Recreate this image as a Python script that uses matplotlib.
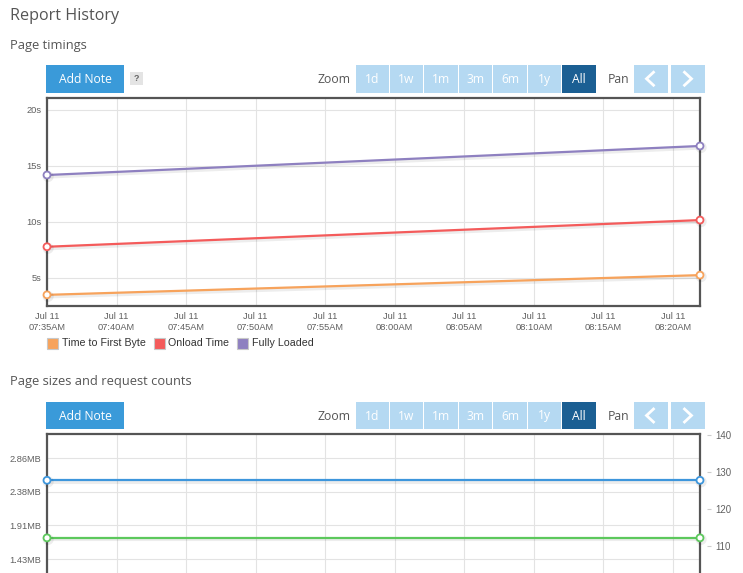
import matplotlib
matplotlib.use("Agg")
import matplotlib.pyplot as plt
import matplotlib.dates as mdates
import matplotlib.patheffects as pe
from matplotlib.patches import Rectangle
from matplotlib.lines import Line2D
from matplotlib.ticker import FuncFormatter, FixedLocator
import pandas as pd

# ---------------- data ----------------
times = pd.to_datetime(["2023-07-11 07:35:00", "2023-07-11 08:21:57"])
timing_names = ["Time to First Byte", "Onload Time", "Fully Loaded"]
ttfb = [3.48, 5.24]
onload = [7.77, 10.15]
fully_loaded = [14.17, 16.76]
timing_colors = ["#f7a35c", "#f45b5b", "#8e80c0"]

page_size_bytes = [2672000, 2672000]
request_counts = [112.2, 112.2]
size_colors = ["#3d96dc", "#5cc85c"]

size_ticks_bytes = [1500000, 2000000, 2500000, 3000000]
count_ticks = [110, 120, 130, 140]
zoom_labels = ["1d", "1w", "1m", "3m", "6m", "1y", "All"]

# ---------------- layout helpers ----------------
W, H = 743, 573
fig = plt.figure(figsize=(W / 100, H / 100), dpi=100)
fig.patch.set_facecolor("white")

def fx(x):
    return x / W

def fy(y):
    return 1 - y / H

def ax_rect(x0, y0, x1, y1):
    return [fx(x0), fy(y1), (x1 - x0) / W, (y1 - y0) / H]

UI = "Open Sans"
TICKF = ["Liberation Sans", "DejaVu Sans"]

def rect(x0, y0, x1, y1, color):
    fig.patches.append(Rectangle((fx(x0), fy(y1)), (x1 - x0) / W, (y1 - y0) / H,
                                 transform=fig.transFigure, facecolor=color,
                                 edgecolor="none", zorder=1))

def button(x0, x1, y0, y1, color, label, size=8.7):
    rect(x0, y0, x1, y1, color)
    fig.text(fx((x0 + x1) / 2), fy((y0 + y1) / 2 + 0.5), label, ha="center", va="center",
             color="white", fontsize=size, family=UI, zorder=2)

def chevron(xc, yc, direction):
    d = 3.5 * direction
    fig.lines.append(Line2D([fx(xc - d), fx(xc + d), fx(xc - d)],
                            [fy(yc - 6.5), fy(yc), fy(yc + 6.5)],
                            transform=fig.transFigure, color="white", lw=2.0,
                            solid_joinstyle="miter", zorder=2))

def toolbar(y0, y1, with_help):
    button(46, 124, y0, y1, "#3a9ad9", "Add Note")
    if with_help:
        rect(130, y0 + 7, 143, y0 + 20, "#e4e4e4")
        fig.text(fx(136.5), fy(y0 + 13.5), "?", ha="center", va="center",
                 fontsize=6.5, color="#666666", weight="bold", family=TICKF)
    fig.text(fx(351), fy((y0 + y1) / 2 + 0.5), "Zoom", ha="right", va="center",
             fontsize=8.8, color="#555555", family=UI)
    edges = [356, 389, 423, 458, 492, 527, 561, 596]
    for i, lab in enumerate(zoom_labels):
        col = "#1b5f93" if lab == "All" else "#b5d9f2"
        button(edges[i] + (1 if i else 0), edges[i + 1], y0, y1, col, lab)
    fig.text(fx(608), fy((y0 + y1) / 2 + 0.5), "Pan", ha="left", va="center",
             fontsize=8.8, color="#555555", family=UI)
    rect(634, y0, 668, y1, "#b5d9f2")
    rect(671, y0, 705, y1, "#b5d9f2")
    chevron(650, (y0 + y1) / 2, -1)
    chevron(688, (y0 + y1) / 2, 1)

# ---------------- headings ----------------
fig.text(fx(10), fy(16), "Report History", ha="left", va="center",
         fontsize=11.6, color="#555555", family=UI)
fig.text(fx(10), fy(45), "Page timings", ha="left", va="center",
         fontsize=9.3, color="#555555", family=UI)
fig.text(fx(10), fy(382), "Page sizes and request counts", ha="left", va="center",
         fontsize=9.3, color="#555555", family=UI)

toolbar(65, 92.5, True)
toolbar(402, 429, False)

shadow = [pe.SimpleLineShadow(offset=(0.8, -1.1), shadow_color="#000000", alpha=0.07,
                              linewidth=3.0), pe.Normal()]

def style_frame(ax, sides):
    for s, sp in ax.spines.items():
        sp.set_visible(s in sides)
        sp.set_color("#555555")
        sp.set_linewidth(1.6)

def style_x(ax):
    ax.xaxis.set_major_locator(mdates.MinuteLocator(byminute=range(0, 60, 5)))
    ax.xaxis.set_major_formatter(mdates.DateFormatter("%b %d\n%I:%M%p"))
    ax.set_xlim(times[0], times[-1])
    ax.grid(True, color="#e3e3e3", linewidth=0.8)
    ax.set_axisbelow(True)
    ax.tick_params(axis="both", length=0, labelsize=6.7, labelcolor="#606060")
    for lab in ax.get_xticklabels() + ax.get_yticklabels():
        lab.set_family(TICKF)

# ---------------- top chart ----------------
ax1 = fig.add_axes(ax_rect(47, 98, 700, 305.5))
for vals, col in zip([ttfb, onload, fully_loaded], timing_colors):
    ax1.plot(times, vals, color=col, lw=1.6, marker="o", ms=5, mfc="white",
             mec=col, mew=1.3, path_effects=shadow, clip_on=False, zorder=3)
ax1.set_ylim(2.53, 21.04)
ax1.yaxis.set_major_locator(FixedLocator([5, 10, 15, 20]))
ax1.yaxis.set_major_formatter(FuncFormatter(lambda v, p: f"{v:.0f}s"))
style_x(ax1)
ax1.tick_params(axis="x", pad=5)
ax1.tick_params(axis="y", pad=4)
for lab in ax1.get_xticklabels():
    lab.set_linespacing(1.25)
style_frame(ax1, ["left", "right", "top", "bottom"])

# legend (manual)
leg_x = [47, 154, 237]
for name, col, x0 in zip(timing_names, timing_colors, leg_x):
    fig.patches.append(Rectangle((fx(x0), fy(348.5)), 10.5 / W, 10.5 / H,
                                 transform=fig.transFigure, facecolor=col,
                                 edgecolor="#c8c8c8", lw=0.8))
    fig.text(fx(x0 + 14.5), fy(343.5), name, ha="left", va="center",
             fontsize=7.7, color="#333333", family=TICKF)

# ---------------- bottom chart ----------------
ax2 = fig.add_axes(ax_rect(47, 434.3, 700, 640))
ax2.plot(times, page_size_bytes, color=size_colors[0], lw=1.6, marker="o", ms=5,
         mfc="white", mec=size_colors[0], mew=1.3, path_effects=shadow,
         clip_on=False, zorder=3)
ax2.set_ylim(294000, 3357000)
ax2.yaxis.set_major_locator(FixedLocator(size_ticks_bytes))
ax2.yaxis.set_major_formatter(FuncFormatter(lambda v, p: f"{v / 1048576:.2f}MB"))
style_x(ax2)
ax2.tick_params(axis="x", labelbottom=False)
ax2.tick_params(axis="y", pad=4)
style_frame(ax2, ["left", "right", "top", "bottom"])

ax3 = ax2.twinx()
ax3.plot(times, request_counts, color=size_colors[1], lw=1.6, marker="o", ms=5,
         mfc="white", mec=size_colors[1], mew=1.3, path_effects=shadow,
         clip_on=False, zorder=3)
ax3.set_ylim(84.6, 140.19)
ax3.yaxis.set_major_locator(FixedLocator(count_ticks))
ax3.yaxis.set_major_formatter(FuncFormatter(lambda v, p: f"{v:.0f}"))
for s in ax3.spines.values():
    s.set_visible(False)
ax3.spines["right"].set_position(("outward", 5))
ax3.tick_params(axis="y", length=3, width=0.8, color="#cccccc", pad=3,
                labelsize=6.9, labelcolor="#606060")
for lab in ax3.get_yticklabels():
    lab.set_family(TICKF)

fig.savefig("out.png", dpi=100)
